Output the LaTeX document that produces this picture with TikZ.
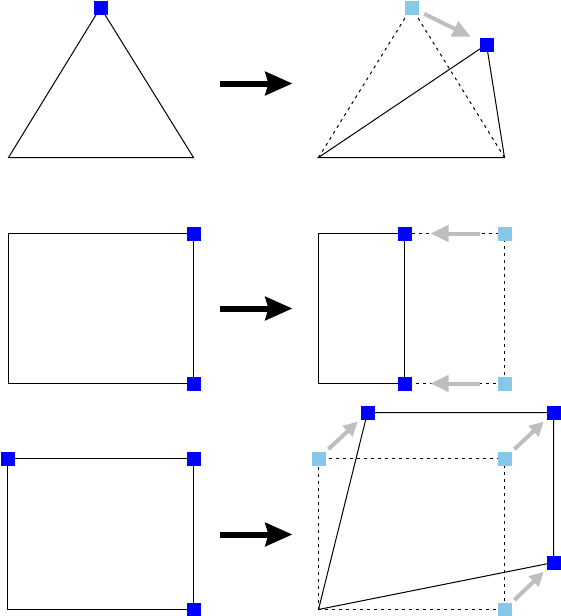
\documentclass[tikz,border=0pt]{standalone}
\usetikzlibrary{arrows.meta,backgrounds,calc}
\definecolor{lightsq}{RGB}{135,200,232}
\definecolor{movegray}{RGB}{190,190,190}
\begin{document}
\begin{tikzpicture}[x=1pt,y=-1pt,
  bsq/.style={fill=blue,minimum size=14pt,inner sep=0pt,outer sep=0pt},
  lsq/.style={fill=lightsq,minimum size=14pt,inner sep=0pt,outer sep=0pt},
  edge/.style={line width=1pt,line join=miter},
  ghost/.style={line width=1pt,dash pattern=on 3pt off 4pt},
  bigarrow/.style={line width=6pt,-{Stealth[length=27pt,width=23pt,inset=3pt]}},
  movearrow/.style={draw=movegray,line width=4pt,-{Triangle[length=18pt,width=16pt]}},
  movearrowsm/.style={draw=movegray,line width=4pt,-{Triangle[length=14pt,width=14pt]}}]
\useasboundingbox (0,0) rectangle (560,616);
\begin{scope}[xshift=0.5pt,yshift=-0.5pt]
% ---------- row 1 ----------
\node[bsq] (t1) at (100,7) {};
\coordinate (t1l) at (8,157);
\coordinate (t1r) at (193,157);

\node[lsq] (t2old) at (411,7) {};
\node[bsq] (t2new) at (486,44) {};
\coordinate (t2l) at (318,157);
\coordinate (t2r) at (504,157);

\coordinate (a1s) at (219,83);
\coordinate (a1e) at (292,83);

% ---------- row 2 ----------
\coordinate (r1a) at (8,233);
\node[bsq] (r1b) at (193,233) {};
\node[bsq] (r1c) at (193,383) {};
\coordinate (r1d) at (8,383);

\coordinate (r2a) at (318,233);
\node[bsq] (r2b) at (404,233) {};
\node[bsq] (r2c) at (404,383) {};
\coordinate (r2d) at (318,383);
\node[lsq] (r2e) at (504,233) {};
\node[lsq] (r2f) at (504,383) {};

\coordinate (a2s) at (219,308);
\coordinate (a2e) at (292,308);

% ---------- row 3 ----------
\node[bsq] (q1a) at (7,458) {};
\node[bsq] (q1b) at (193,458) {};
\node[bsq] (q1c) at (193,609) {};
\coordinate (q1d) at (7,609);

\coordinate (q2d) at (318,609);
\node[lsq] (q2aold) at (318,458) {};
\node[lsq] (q2bold) at (504,458) {};
\node[lsq] (q2cold) at (504,609) {};
\node[bsq] (q2a) at (367,412) {};
\node[bsq] (q2b) at (553,412) {};
\node[bsq] (q2c) at (553,562) {};

\coordinate (a3s) at (219,534);
\coordinate (a3e) at (292,534);

\begin{pgfonlayer}{background}
  % row 1
  \draw[edge] (t1l) -- (t1.center) -- (t1r) -- cycle;
  \draw[ghost] (t2l) -- (t2old.center) -- (t2r);
  \draw[edge] (t2l) -- (t2new.center) -- (t2r) -- cycle;
  % row 2
  \draw[edge] (r1a) -- (r1b.center) -- (r1c.center) -- (r1d) -- cycle;
  \draw[edge] (r2a) -- (r2b.center) -- (r2c.center) -- (r2d) -- cycle;
  \draw[ghost] (r2b.center) -- (r2e.center) -- (r2f.center) -- (r2c.center);
  % row 3
  \draw[edge] (q1a.center) -- (q1b.center) -- (q1c.center) -- (q1d) -- cycle;
  \draw[ghost] (q2d) -- (q2aold.center) -- (q2bold.center) -- (q2cold.center) -- (q2d);
  \draw[edge] (q2d) -- (q2a.center) -- (q2b.center) -- (q2c.center) -- cycle;
\end{pgfonlayer}

% big arrows
\draw[bigarrow] (a1s) -- (a1e);
\draw[bigarrow] (a2s) -- (a2e);
\draw[bigarrow] (a3s) -- (a3e);

% movement arrows
\draw[movearrow] ($(t2old.center)!0.17!(t2new.center)$) -- ($(t2old.center)!0.79!(t2new.center)$);
\draw[movearrow] ($(r2e.center)!0.25!(r2b.center)$) -- ($(r2e.center)!0.74!(r2b.center)$);
\draw[movearrow] ($(r2f.center)!0.25!(r2c.center)$) -- ($(r2f.center)!0.74!(r2c.center)$);
\draw[movearrowsm] ($(q2aold.center)!0.2!(q2a.center)$) -- ($(q2aold.center)!0.8!(q2a.center)$);
\draw[movearrowsm] ($(q2bold.center)!0.2!(q2b.center)$) -- ($(q2bold.center)!0.8!(q2b.center)$);
\draw[movearrowsm] ($(q2cold.center)!0.2!(q2c.center)$) -- ($(q2cold.center)!0.8!(q2c.center)$);
\end{scope}
\end{tikzpicture}
\end{document}
